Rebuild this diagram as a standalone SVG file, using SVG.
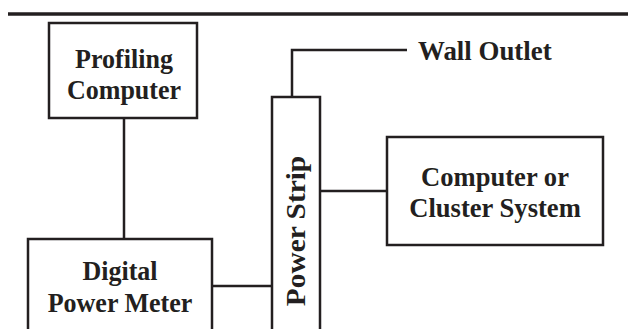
<svg xmlns="http://www.w3.org/2000/svg" width="628" height="329" viewBox="0 0 628 329">
<style>
.box{fill:#fff;stroke:#231f20;stroke-width:2.5}
.ln{fill:none;stroke:#231f20;stroke-width:2.5}
text{font-family:"Liberation Serif","Times New Roman",serif;font-weight:bold;font-size:28px;fill:#231f20;text-anchor:middle}
</style>
<rect x="0" y="0" width="628" height="329" fill="#fff"/>
<line x1="8" y1="14" x2="628" y2="14" stroke="#231f20" stroke-width="3.5"/>
<g id="connectors">
<line class="ln" x1="124" y1="118" x2="124" y2="239"/>
<polyline class="ln" points="292,97 292,50 407,50"/>
<line class="ln" x1="320" y1="191" x2="387" y2="191"/>
<line class="ln" x1="212" y1="286" x2="272" y2="286"/>
</g>
<g id="profiling">
<rect class="box" x="49" y="23" width="148" height="95"/>
<text transform="translate(124,68) scale(0.93,1)">Profiling</text>
<text transform="translate(124,99) scale(0.93,1)">Computer</text>
</g>
<g id="wall">
<text transform="translate(418,60) scale(0.96,1)" style="text-anchor:start">Wall Outlet</text>
</g>
<g id="strip">
<rect class="box" x="272" y="97" width="48" height="240"/>
<text transform="translate(305,231) rotate(-90) scale(1.05,1)">Power Strip</text>
</g>
<g id="cluster">
<rect class="box" x="387" y="137" width="216" height="108"/>
<text transform="translate(495,186) scale(0.95,1)">Computer or</text>
<text transform="translate(495,217) scale(0.95,1)">Cluster System</text>
</g>
<g id="meter">
<rect class="box" x="28" y="239" width="184" height="100"/>
<text transform="translate(120,280) scale(0.93,1)">Digital</text>
<text transform="translate(120,312) scale(0.93,1)">Power Meter</text>
</g>
</svg>
